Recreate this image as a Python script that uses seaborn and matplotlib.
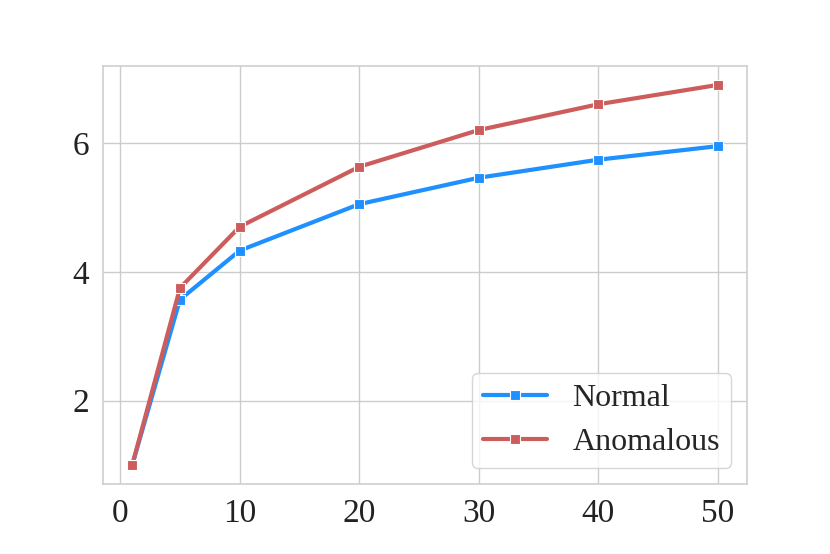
import numpy as np
import pandas as pd
import seaborn as sns
import matplotlib
matplotlib.use('Agg')
import matplotlib.pyplot as plt

# values
x_vals = [1, 5, 10, 20, 30, 40, 50]
normal = [1.0, 3.57, 4.33, 5.05, 5.46, 5.74, 5.95]
anomalous = [1.0, 3.75, 4.70, 5.63, 6.20, 6.60, 6.90]
series_names = ['Normal', 'Anomalous']

df = pd.DataFrame({
    'x': x_vals * 2,
    'y': normal + anomalous,
    'group': [series_names[0]] * len(x_vals) + [series_names[1]] * len(x_vals),
})

sns.set_theme(style='whitegrid')
plt.rcParams['font.family'] = ['Liberation Serif', 'DejaVu Serif']

fig, ax = plt.subplots(figsize=(8.3, 5.54), dpi=100)
fig.subplots_adjust(left=0.124, right=0.9, top=0.881, bottom=0.126)

palette = {'Normal': '#1E90FF', 'Anomalous': '#CD5C5C'}
sns.lineplot(data=df, x='x', y='y', hue='group', palette=palette,
             marker='s', markersize=7, markeredgecolor='white',
             markeredgewidth=0.8, linewidth=3, ax=ax)

ax.set_xlabel('')
ax.set_ylabel('')
ax.set_xticks([0, 10, 20, 30, 40, 50])
ax.set_yticks([2, 4, 6])
ax.tick_params(labelsize=24, colors='#222222', pad=4)
for s in ax.spines.values():
    s.set_color('#d0d0d0')

leg = ax.legend(loc='lower right', fontsize=23, frameon=True,
                handlelength=2.0, borderpad=0.35, labelspacing=0.45,
                handletextpad=0.8)
leg.set_title(None)

fig.savefig('out.png', dpi=100)
plt.close(fig)
